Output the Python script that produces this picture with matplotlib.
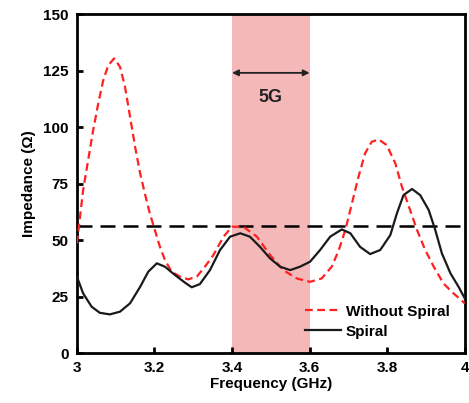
import matplotlib
matplotlib.use('Agg')
import matplotlib.pyplot as plt

plt.rcParams['font.family'] = ['Liberation Sans', 'DejaVu Sans']
plt.rcParams['font.weight'] = 'bold'

# values
f_nospiral = [3.0, 3.008, 3.016, 3.029, 3.042, 3.055, 3.068, 3.081, 3.096, 3.111,
              3.124, 3.137, 3.15, 3.163, 3.175, 3.188, 3.201, 3.214, 3.227, 3.244,
              3.266, 3.287, 3.309, 3.33, 3.352, 3.378, 3.4, 3.429, 3.464, 3.498,
              3.532, 3.567, 3.601, 3.631, 3.657, 3.675, 3.692, 3.709, 3.726, 3.743,
              3.76, 3.778, 3.799, 3.821, 3.838, 3.859, 3.877, 3.898, 3.92, 3.945,
              3.971, 4.0]
z_nospiral = [48.5, 60.3, 72.1, 85.4, 98.7, 110.5, 120.8, 127.4, 130.4, 126.7,
              117.8, 104.6, 91.3, 79.5, 70.7, 61.8, 54.4, 47.0, 41.2, 36.0,
              33.8, 32.6, 33.8, 38.2, 43.4, 51.5, 55.9, 55.9, 51.5, 43.4,
              36.7, 33.0, 31.5, 33.0, 38.2, 45.5, 54.4, 66.2, 78.0, 88.4,
              93.5, 94.5, 92.0, 83.9, 73.6, 63.3, 54.4, 45.6, 38.2, 30.8,
              26.4, 22.0]

f_spiral = [3.0, 3.016, 3.038, 3.059, 3.085, 3.111, 3.137, 3.163, 3.184, 3.206,
            3.227, 3.253, 3.279, 3.296, 3.317, 3.343, 3.369, 3.395, 3.421, 3.446,
            3.472, 3.498, 3.524, 3.55, 3.575, 3.601, 3.627, 3.653, 3.683, 3.705,
            3.73, 3.756, 3.782, 3.808, 3.825, 3.842, 3.864, 3.885, 3.907, 3.924,
            3.941, 3.963, 3.984, 4.0]
z_spiral = [33.8, 26.4, 20.5, 17.8, 17.1, 18.3, 22.0, 29.3, 36.0, 39.7,
            38.2, 34.5, 31.1, 29.1, 30.5, 36.7, 45.6, 51.5, 53.0, 51.5,
            47.0, 41.9, 38.2, 36.7, 38.2, 40.4, 45.6, 51.5, 54.7, 53.0,
            47.0, 43.8, 45.6, 52.2, 61.8, 69.9, 72.6, 69.9, 63.3, 54.4,
            44.1, 35.3, 29.3, 24.2]

z_ref = 56
band = [3.4, 3.6]
xticks = [3, 3.2, 3.4, 3.6, 3.8, 4]
xticklabels = ['3', '3.2', '3.4', '3.6', '3.8', '4']
yticks = [0, 25, 50, 75, 100, 125, 150]

fig = plt.figure(figsize=(4.69, 4.03), dpi=100)
ax = fig.add_axes([0.164, 0.124, 0.827, 0.841])

ax.axvspan(band[0], band[1], color='#f5b8b8', lw=0, zorder=0)
ax.axhline(z_ref, color='black', lw=1.8, dashes=(6, 3.2), zorder=2)
ax.plot(f_nospiral, z_nospiral, color='#ff2020', lw=1.6, dashes=(3.5, 2),
        label='Without Spiral', zorder=3)
ax.plot(f_spiral, z_spiral, color='#1a1a1a', lw=1.6, label='Spiral', zorder=4)

ax.annotate('', xy=(band[0], 124), xytext=(band[1], 124),
            arrowprops=dict(arrowstyle='<|-|>', color='#222222', lw=1.3,
                            mutation_scale=9, shrinkA=0, shrinkB=0))
ax.text(sum(band) / 2, 113, '5G', ha='center', va='center', fontsize=13,
        fontweight='bold', color='#222222')

ax.set_xlim(3, 4)
ax.set_ylim(0, 150)
ax.set_xticks(xticks)
ax.set_xticklabels(xticklabels)
ax.set_yticks(yticks)
ax.tick_params(direction='in', length=4, width=2, labelsize=11, pad=6)
for lab in ax.get_xticklabels() + ax.get_yticklabels():
    lab.set_fontweight('bold')
for s in ax.spines.values():
    s.set_linewidth(2)
ax.set_xlabel('Frequency (GHz)', fontsize=11, fontweight='bold', labelpad=1)
ax.set_ylabel('Impedance (Ω)', fontsize=11, fontweight='bold', labelpad=5)

ax.legend(loc='lower right', bbox_to_anchor=(0.985, 0.015), frameon=False,
          fontsize=11, handlelength=2.35, handletextpad=0.3, labelspacing=0.4,
          borderaxespad=0.2)

fig.savefig('out.png', dpi=100)
